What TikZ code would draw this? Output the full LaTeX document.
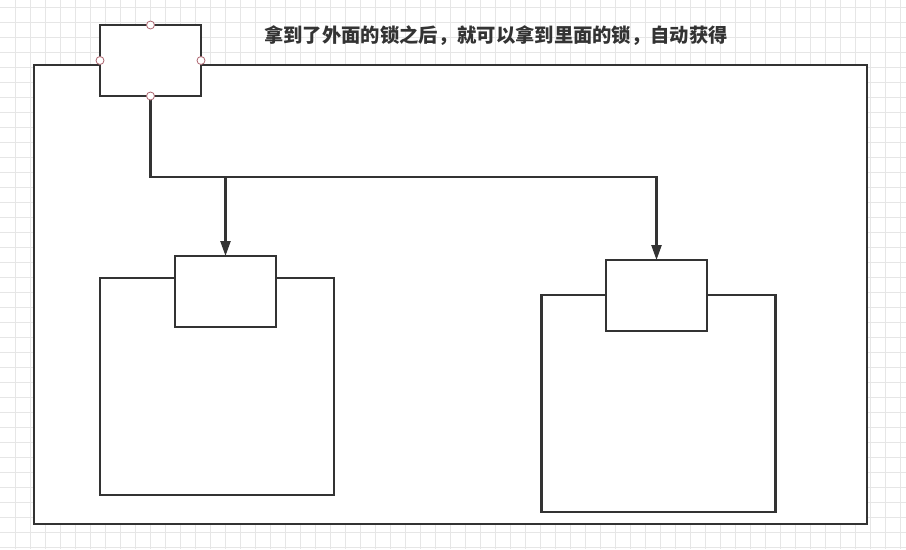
\documentclass[tikz,border=0pt]{standalone}
\usepackage{fontspec}
\usepackage{xcolor}
\usetikzlibrary{arrows.meta, positioning, calc}
\newfontfamily\cjk{Noto Sans CJK SC}
\definecolor{lineg}{HTML}{333333}
\definecolor{gridg}{HTML}{E6E6E6}
\definecolor{portred}{HTML}{B06A74}

\begin{document}
\begin{tikzpicture}[
    x=0.03cm, y=-0.03cm,
    >={Triangle[length=0.45cm, width=0.3cm]},
    lockbox/.style = {draw=lineg, line width=2pt, fill=white, minimum width=3.03cm, minimum height=2.13cm, inner sep=0pt, outer sep=0pt},
    roombox/.style = {draw=lineg, line width=2pt, fill=white, minimum width=7.02cm, minimum height=6.51cm, inner sep=0pt, outer sep=0pt},
    port/.style    = {draw=portred, fill=white, circle, line width=0.7pt, minimum size=0.24cm, inner sep=0pt},
    link/.style    = {draw=lineg, line width=2pt},
    gridline/.style = {draw=gridg, line width=0.5pt}
]
    \useasboundingbox (0,0) rectangle (906,549);
    \fill[white] (0,0) rectangle (906,549);

    % background grid
    \foreach \gx in {15,30,...,900}
        \draw[gridline] (\gx,0) -- (\gx,549);
    \foreach \gy in {7,22,...,547}
        \draw[gridline] (0,\gy) -- (906,\gy);

    \node[draw=lineg, line width=2pt, fill=white, minimum width=24.99cm, minimum height=13.77cm, inner sep=0pt] (outer) at (450.5,294.5) {};

    \node[roombox] (roomA) at (217,386.5) {};
    \node[roombox] (roomB) at (658.5,403.5) {};
    \node[lockbox] (lockA) at (225.5,291.5) {};
    \node[lockbox] (lockB) at (656.5,295.5) {};
    \node[lockbox] (outerlock) at (150.5,60.5) {};

    \node[text=lineg] (note) at (496,36) {\cjk\bfseries\fontsize{16.5}{20}\selectfont 拿到了外面的锁之后，就可以拿到里面的锁，自动获得};

    % links from the outer lock
    \coordinate (bend) at ($(outerlock.south) + (0,81)$);
    \draw[link, ->] (outerlock.south) -- (bend) -| (lockA.north);
    \draw[link, ->] (outerlock.south) -- (bend) -| (lockB.north);

    \foreach \side in {north, south, east, west}
        \node[port] at (outerlock.\side) {};
\end{tikzpicture}
\end{document}
